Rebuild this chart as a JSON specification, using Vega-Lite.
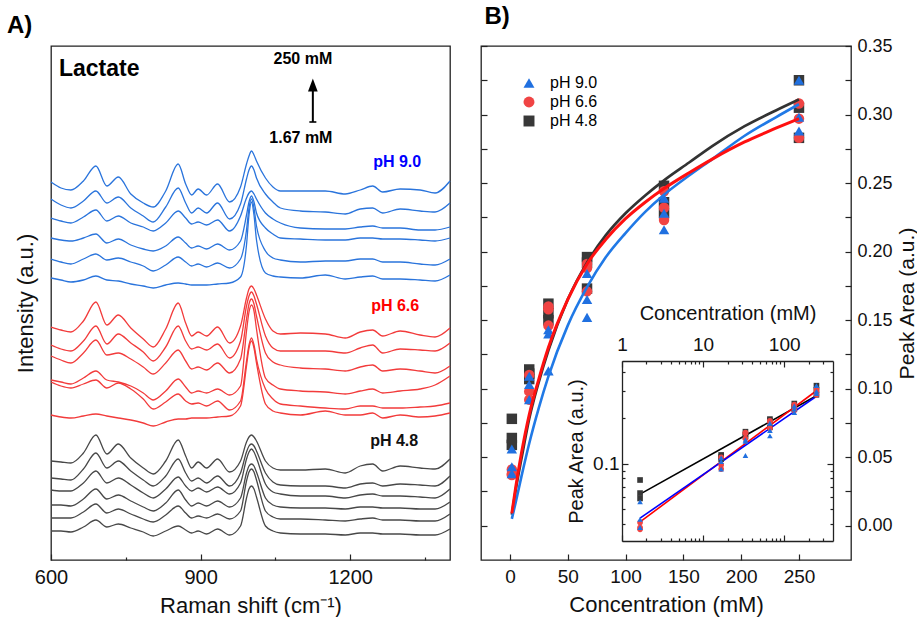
{
  "$schema": "https://vega.github.io/schema/vega-lite/v6.json",
  "padding": {"left": 6, "top": 4, "right": 0, "bottom": 0},
  "background": "white",
  "config": {
    "font": "Liberation Sans",
    "view": {"stroke": "#222222", "strokeWidth": 1.3},
    "axis": {"grid": false, "labelFlush": false, "tickColor": "#222222", "domainColor": "#222222", "labelColor": "#111111", "titleColor": "#111111", "titleFontWeight": "normal", "tickWidth": 1.2, "domainWidth": 1.3}
  },
  "datasets": {
    "spectra": [
      {"x":600,"b1":378,"b2":361,"b3":342,"b4":322,"b5":301,"b6":282,"r1":233,"r2":215,"r3":204,"r4":180,"r5":178,"r6":145,"k1":99,"k2":82,"k3":70,"k4":55,"k5":42,"k6":29},
      {"x":620,"b1":372,"b2":355,"b3":339,"b4":320,"b5":298,"b6":280,"r1":230,"r2":211,"r3":200,"r4":178,"r5":174,"r6":143,"k1":98,"k2":81,"k3":69,"k4":55,"k5":42,"k6":29},
      {"x":640,"b1":370,"b2":352,"b3":337,"b4":319,"b5":296,"b6":278,"r1":228,"r2":209,"r3":197,"r4":176,"r5":172,"r6":142,"k1":97,"k2":80,"k3":69,"k4":54,"k5":42,"k6":28},
      {"x":665,"b1":379,"b2":359,"b3":343,"b4":322,"b5":301,"b6":280,"r1":239,"r2":219,"r3":207,"r4":182,"r5":176,"r6":144,"k1":107,"k2":91,"k3":77,"k4":61,"k5":48,"k6":33},
      {"x":690,"b1":394,"b2":369,"b3":350,"b4":326,"b5":306,"b6":284,"r1":258,"r2":234,"r3":220,"r4":189,"r5":180,"r6":146,"k1":125,"k2":107,"k3":89,"k4":71,"k5":56,"k6":40},
      {"x":712,"b1":374,"b2":357,"b3":339,"b4":317,"b5":300,"b6":280,"r1":235,"r2":216,"r3":205,"r4":180,"r5":172,"r6":144,"k1":106,"k2":92,"k3":77,"k4":61,"k5":47,"k6":33},
      {"x":735,"b1":383,"b2":363,"b3":344,"b4":321,"b5":302,"b6":279,"r1":245,"r2":226,"r3":207,"r4":178,"r5":177,"r6":142,"k1":116,"k2":99,"k3":82,"k4":65,"k5":51,"k6":36},
      {"x":760,"b1":366,"b2":352,"b3":337,"b4":315,"b5":298,"b6":276,"r1":232,"r2":217,"r3":201,"r4":174,"r5":171,"r6":140,"k1":102,"k2":89,"k3":75,"k4":59,"k5":46,"k6":32},
      {"x":785,"b1":357,"b2":344,"b3":333,"b4":311,"b5":294,"b6":274,"r1":221,"r2":208,"r3":193,"r4":167,"r5":161,"r6":137,"k1":92,"k2":80,"k3":67,"k4":53,"k5":41,"k6":28},
      {"x":805,"b1":353,"b2":338,"b3":329,"b4":309,"b5":289,"b6":272,"r1":213,"r2":199,"r3":186,"r4":160,"r5":151,"r6":134,"k1":86,"k2":74,"k3":62,"k4":49,"k5":38,"k6":24},
      {"x":830,"b1":369,"b2":353,"b3":337,"b4":314,"b5":295,"b6":275,"r1":231,"r2":213,"r3":197,"r4":169,"r5":158,"r6":138,"k1":99,"k2":84,"k3":71,"k4":57,"k5":45,"k6":29},
      {"x":855,"b1":396,"b2":372,"b3":349,"b4":323,"b5":303,"b6":277,"r1":257,"r2":234,"r3":210,"r4":181,"r5":166,"r6":141,"k1":120,"k2":101,"k3":83,"k4":70,"k5":54,"k6":34},
      {"x":870,"b1":376,"b2":357,"b3":342,"b4":317,"b5":298,"b6":276,"r1":237,"r2":219,"r3":199,"r4":173,"r5":159,"r6":141,"k1":104,"k2":87,"k3":74,"k4":60,"k5":47,"k6":30},
      {"x":882,"b1":365,"b2":347,"b3":336,"b4":312,"b5":294,"b6":275,"r1":224,"r2":211,"r3":191,"r4":167,"r5":156,"r6":142,"k1":92,"k2":79,"k3":69,"k4":54,"k5":42,"k6":27},
      {"x":895,"b1":371,"b2":352,"b3":338,"b4":314,"b5":296,"b6":275,"r1":228,"r2":213,"r3":193,"r4":169,"r5":157,"r6":142,"k1":98,"k2":82,"k3":72,"k4":57,"k5":44,"k6":29},
      {"x":912,"b1":365,"b2":347,"b3":335,"b4":311,"b5":293,"b6":275,"r1":224,"r2":210,"r3":190,"r4":167,"r5":154,"r6":142,"k1":92,"k2":77,"k3":68,"k4":54,"k5":42,"k6":26},
      {"x":934,"b1":376,"b2":357,"b3":340,"b4":316,"b5":297,"b6":276,"r1":233,"r2":216,"r3":197,"r4":171,"r5":159,"r6":143,"k1":101,"k2":84,"k3":73,"k4":59,"k5":46,"k6":31},
      {"x":958,"b1":358,"b2":341,"b3":329,"b4":310,"b5":292,"b6":277,"r1":217,"r2":202,"r3":187,"r4":165,"r5":150,"r6":144,"k1":88,"k2":74,"k3":66,"k4":53,"k5":41,"k6":25},
      {"x":980,"b1":373,"b2":356,"b3":344,"b4":319,"b5":301,"b6":283,"r1":234,"r2":219,"r3":201,"r4":174,"r5":159,"r6":154,"k1":99,"k2":87,"k3":77,"k4":62,"k5":49,"k6":34},
      {"x":992,"b1":396,"b2":381,"b3":362,"b4":345,"b5":330,"b6":315,"r1":262,"r2":254,"r3":241,"r4":229,"r5":199,"r6":194,"k1":118,"k2":108,"k3":101,"k4":87,"k5":79,"k6":62},
      {"x":997,"b1":404,"b2":390,"b3":367,"b4":358,"b5":352,"b6":345,"r1":271,"r2":264,"r3":256,"r4":248,"r5":215,"r6":212,"k1":123,"k2":114,"k3":108,"k4":94,"k5":88,"k6":71},
      {"x":1002,"b1":409,"b2":394,"b3":369,"b4":364,"b5":361,"b6":358,"r1":274,"r2":268,"r3":261,"r4":255,"r5":222,"r6":219,"k1":125,"k2":116,"k3":111,"k4":96,"k5":91,"k6":74},
      {"x":1007,"b1":405,"b2":390,"b3":366,"b4":358,"b5":352,"b6":345,"r1":271,"r2":264,"r3":256,"r4":249,"r5":215,"r6":212,"k1":123,"k2":114,"k3":108,"k4":94,"k5":88,"k6":71},
      {"x":1012,"b1":399,"b2":382,"b3":361,"b4":347,"b5":334,"b6":320,"r1":265,"r2":256,"r3":244,"r4":231,"r5":201,"r6":197,"k1":119,"k2":109,"k3":102,"k4":88,"k5":80,"k6":63},
      {"x":1030,"b1":382,"b2":366,"b3":347,"b4":332,"b5":309,"b6":287,"r1":241,"r2":224,"r3":207,"r4":182,"r5":171,"r6":156,"k1":99,"k2":87,"k3":76,"k4":62,"k5":49,"k6":34},
      {"x":1045,"b1":373,"b2":358,"b3":341,"b4":326,"b5":302,"b6":284,"r1":229,"r2":212,"r3":198,"r4":175,"r5":161,"r6":149,"k1":92,"k2":78,"k3":68,"k4":55,"k5":43,"k6":29},
      {"x":1060,"b1":369,"b2":352,"b3":337,"b4":322,"b5":300,"b6":283,"r1":226,"r2":209,"r3":195,"r4":171,"r5":156,"r6":147,"k1":90,"k2":75,"k3":66,"k4":53,"k5":41,"k6":27},
      {"x":1100,"b1":369,"b2":349,"b3":332,"b4":321,"b5":298,"b6":282,"r1":227,"r2":209,"r3":192,"r4":169,"r5":154,"r6":145,"k1":90,"k2":74,"k3":64,"k4":52,"k5":41,"k6":26},
      {"x":1150,"b1":369,"b2":348,"b3":331,"b4":320,"b5":299,"b6":285,"r1":226,"r2":209,"r3":191,"r4":168,"r5":152,"r6":149,"k1":91,"k2":74,"k3":64,"k4":52,"k5":40,"k6":26},
      {"x":1190,"b1":366,"b2":346,"b3":331,"b4":320,"b5":299,"b6":281,"r1":222,"r2":207,"r3":189,"r4":166,"r5":151,"r6":145,"k1":87,"k2":72,"k3":62,"k4":51,"k5":39,"k6":25},
      {"x":1220,"b1":370,"b2":351,"b3":333,"b4":322,"b5":301,"b6":283,"r1":228,"r2":212,"r3":193,"r4":169,"r5":154,"r6":145,"k1":94,"k2":76,"k3":65,"k4":53,"k5":41,"k6":27},
      {"x":1245,"b1":374,"b2":352,"b3":334,"b4":322,"b5":301,"b6":284,"r1":230,"r2":215,"r3":195,"r4":171,"r5":154,"r6":147,"k1":96,"k2":77,"k3":66,"k4":53,"k5":42,"k6":27},
      {"x":1265,"b1":368,"b2":347,"b3":332,"b4":321,"b5":298,"b6":281,"r1":224,"r2":207,"r3":189,"r4":167,"r5":152,"r6":142,"k1":89,"k2":74,"k3":64,"k4":52,"k5":40,"k6":26},
      {"x":1300,"b1":371,"b2":351,"b3":332,"b4":321,"b5":298,"b6":281,"r1":229,"r2":211,"r3":191,"r4":169,"r5":152,"r6":145,"k1":94,"k2":76,"k3":64,"k4":52,"k5":40,"k6":26},
      {"x":1340,"b1":370,"b2":349,"b3":330,"b4":320,"b5":296,"b6":280,"r1":225,"r2":210,"r3":189,"r4":171,"r5":153,"r6":143,"k1":92,"k2":75,"k3":63,"k4":51,"k5":39,"k6":25},
      {"x":1370,"b1":367,"b2":348,"b3":330,"b4":319,"b5":295,"b6":279,"r1":223,"r2":209,"r3":187,"r4":175,"r5":154,"r6":144,"k1":91,"k2":74,"k3":62,"k4":51,"k5":39,"k6":25},
      {"x":1400,"b1":379,"b2":357,"b3":333,"b4":322,"b5":301,"b6":285,"r1":232,"r2":217,"r3":194,"r4":184,"r5":157,"r6":147,"k1":101,"k2":84,"k3":71,"k4":58,"k5":46,"k6":31}
    ],
    "pts": [
      {"c":1.67,"ph":"pH 4.8","a":0.078},{"c":1.67,"ph":"pH 4.8","a":0.064},{"c":1.67,"ph":"pH 4.8","a":0.059},
      {"c":16.7,"ph":"pH 4.8","a":0.114},{"c":16.7,"ph":"pH 4.8","a":0.111},{"c":16.7,"ph":"pH 4.8","a":0.107},
      {"c":33.3,"ph":"pH 4.8","a":0.162},{"c":33.3,"ph":"pH 4.8","a":0.155},{"c":33.3,"ph":"pH 4.8","a":0.150},
      {"c":66.7,"ph":"pH 4.8","a":0.196},{"c":66.7,"ph":"pH 4.8","a":0.192},{"c":66.7,"ph":"pH 4.8","a":0.173},
      {"c":133.3,"ph":"pH 4.8","a":0.248},{"c":133.3,"ph":"pH 4.8","a":0.236},{"c":133.3,"ph":"pH 4.8","a":0.228},
      {"c":250,"ph":"pH 4.8","a":0.325},{"c":250,"ph":"pH 4.8","a":0.305},{"c":250,"ph":"pH 4.8","a":0.283},
      {"c":1.67,"ph":"pH 6.6","a":0.041},{"c":1.67,"ph":"pH 6.6","a":0.038},{"c":1.67,"ph":"pH 6.6","a":0.037},
      {"c":16.7,"ph":"pH 6.6","a":0.110},{"c":16.7,"ph":"pH 6.6","a":0.098},{"c":16.7,"ph":"pH 6.6","a":0.092},
      {"c":33.3,"ph":"pH 6.6","a":0.160},{"c":33.3,"ph":"pH 6.6","a":0.158},{"c":33.3,"ph":"pH 6.6","a":0.146},
      {"c":66.7,"ph":"pH 6.6","a":0.191},{"c":66.7,"ph":"pH 6.6","a":0.188},{"c":66.7,"ph":"pH 6.6","a":0.171},
      {"c":133.3,"ph":"pH 6.6","a":0.244},{"c":133.3,"ph":"pH 6.6","a":0.232},{"c":133.3,"ph":"pH 6.6","a":0.223},
      {"c":250,"ph":"pH 6.6","a":0.308},{"c":250,"ph":"pH 6.6","a":0.297},{"c":250,"ph":"pH 6.6","a":0.283},
      {"c":1.67,"ph":"pH 9.0","a":0.056},{"c":1.67,"ph":"pH 9.0","a":0.043},{"c":1.67,"ph":"pH 9.0","a":0.038},
      {"c":16.7,"ph":"pH 9.0","a":0.109},{"c":16.7,"ph":"pH 9.0","a":0.103},{"c":16.7,"ph":"pH 9.0","a":0.092},
      {"c":33.3,"ph":"pH 9.0","a":0.143},{"c":33.3,"ph":"pH 9.0","a":0.140},{"c":33.3,"ph":"pH 9.0","a":0.113},
      {"c":66.7,"ph":"pH 9.0","a":0.184},{"c":66.7,"ph":"pH 9.0","a":0.165},{"c":66.7,"ph":"pH 9.0","a":0.152},
      {"c":133.3,"ph":"pH 9.0","a":0.239},{"c":133.3,"ph":"pH 9.0","a":0.228},{"c":133.3,"ph":"pH 9.0","a":0.216},
      {"c":250,"ph":"pH 9.0","a":0.325},{"c":250,"ph":"pH 9.0","a":0.298},{"c":250,"ph":"pH 9.0","a":0.288}
    ],
    "fit": [
      {"c":1.67,"ph":"pH 4.8","a":0.008},{"c":5,"ph":"pH 4.8","a":0.026},{"c":10,"ph":"pH 4.8","a":0.049},{"c":16.7,"ph":"pH 4.8","a":0.078},{"c":25,"ph":"pH 4.8","a":0.105},{"c":33.3,"ph":"pH 4.8","a":0.128},{"c":50,"ph":"pH 4.8","a":0.165},{"c":66.7,"ph":"pH 4.8","a":0.192},{"c":83,"ph":"pH 4.8","a":0.212},{"c":100,"ph":"pH 4.8","a":0.228},{"c":117,"ph":"pH 4.8","a":0.241},{"c":133.3,"ph":"pH 4.8","a":0.252},{"c":155,"ph":"pH 4.8","a":0.265},{"c":175,"ph":"pH 4.8","a":0.277},{"c":203,"ph":"pH 4.8","a":0.2915},{"c":230,"ph":"pH 4.8","a":0.303},{"c":250,"ph":"pH 4.8","a":0.311},
      {"c":1.67,"ph":"pH 6.6","a":0.009},{"c":5,"ph":"pH 6.6","a":0.028},{"c":10,"ph":"pH 6.6","a":0.053},{"c":16.7,"ph":"pH 6.6","a":0.081},{"c":25,"ph":"pH 6.6","a":0.107},{"c":33.3,"ph":"pH 6.6","a":0.130},{"c":50,"ph":"pH 6.6","a":0.165},{"c":66.7,"ph":"pH 6.6","a":0.191},{"c":83,"ph":"pH 6.6","a":0.209},{"c":100,"ph":"pH 6.6","a":0.224},{"c":117,"ph":"pH 6.6","a":0.236},{"c":133.3,"ph":"pH 6.6","a":0.246},{"c":155,"ph":"pH 6.6","a":0.2575},{"c":175,"ph":"pH 6.6","a":0.2675},{"c":203,"ph":"pH 6.6","a":0.280},{"c":230,"ph":"pH 6.6","a":0.290},{"c":250,"ph":"pH 6.6","a":0.297},
      {"c":1.67,"ph":"pH 9.0","a":0.005},{"c":5,"ph":"pH 9.0","a":0.017},{"c":10,"ph":"pH 9.0","a":0.036},{"c":16.7,"ph":"pH 9.0","a":0.060},{"c":25,"ph":"pH 9.0","a":0.086},{"c":33.3,"ph":"pH 9.0","a":0.109},{"c":50,"ph":"pH 9.0","a":0.146},{"c":66.7,"ph":"pH 9.0","a":0.174},{"c":83,"ph":"pH 9.0","a":0.196},{"c":100,"ph":"pH 9.0","a":0.2135},{"c":117,"ph":"pH 9.0","a":0.229},{"c":133.3,"ph":"pH 9.0","a":0.2415},{"c":155,"ph":"pH 9.0","a":0.2555},{"c":175,"ph":"pH 9.0","a":0.2675},{"c":203,"ph":"pH 9.0","a":0.2845},{"c":230,"ph":"pH 9.0","a":0.298},{"c":250,"ph":"pH 9.0","a":0.3075}
    ],
    "lfit": [
      {"c":1.67,"ph":"pH 4.8","a":0.063},{"c":250,"ph":"pH 4.8","a":0.279},
      {"c":1.67,"ph":"pH 6.6","a":0.0414},{"c":250,"ph":"pH 6.6","a":0.301},
      {"c":1.67,"ph":"pH 9.0","a":0.0438},{"c":250,"ph":"pH 9.0","a":0.277}
    ]
  },
  "spacing": 25,
  "hconcat": [
    {
      "width": 399,
      "height": 514,
      "title": {"text": "A)", "anchor": "start", "frame": "bounds", "fontSize": 24, "fontWeight": "bold", "dx": -7, "offset": 8, "color": "#000000"},
      "resolve": {"scale": {"color": "independent"}},
      "layer": [
        {
          "data": {"name": "spectra"},
          "transform": [{"fold": ["b1","b2","b3","b4","b5","b6","r1","r2","r3","r4","r5","r6","k1","k2","k3","k4","k5","k6"], "as": ["curve", "v"]}],
          "mark": {"type": "line", "interpolate": "monotone", "strokeWidth": 1.3},
          "encoding": {
            "x": {"field": "x", "type": "quantitative", "scale": {"domain": [600, 1400], "nice": false, "zero": false},
              "axis": {"values": [600, 750, 900, 1050, 1200, 1350], "format": "d", "labelExpr": "datum.value % 300 === 0 ? datum.label : ''",
                "tickSize": {"condition": {"test": "datum.value % 300 === 0", "value": -6}, "value": -3},
                "domain": false, "labelFontSize": 20, "labelPadding": 13, "title": "Raman shift (cm⁻¹)", "titleFontSize": 22, "titlePadding": 8}},
            "y": {"field": "v", "type": "quantitative", "scale": {"domain": [0, 514], "nice": false, "zero": false},
              "axis": {"title": "Intensity (a.u.)", "labels": false, "ticks": false, "domain": false, "titleFontSize": 22, "titlePadding": 14}},
            "color": {"field": "curve", "type": "nominal",
              "scale": {"domain": ["b1","b2","b3","b4","b5","b6","r1","r2","r3","r4","r5","r6","k1","k2","k3","k4","k5","k6"],
                "range": ["#2a74dc","#2a74dc","#2a74dc","#2a74dc","#2a74dc","#2a74dc","#f23b3b","#f23b3b","#f23b3b","#f23b3b","#f23b3b","#f23b3b","#484848","#484848","#484848","#484848","#484848","#484848"]},
              "legend": null}
          }
        },
        {
          "data": {"values": [{"x": 616, "v": 484, "t": "Lactate"}]},
          "mark": {"type": "text", "align": "left", "baseline": "alphabetic", "fontSize": 23, "fontWeight": "bold", "color": "#000000"},
          "encoding": {"x": {"field": "x", "type": "quantitative"}, "y": {"field": "v", "type": "quantitative"}, "text": {"field": "t"}}
        },
        {
          "data": {"values": [{"x": 1105, "v": 496, "t": "250 mM"}, {"x": 1101, "v": 417, "t": "1.67 mM"}]},
          "mark": {"type": "text", "align": "center", "baseline": "alphabetic", "fontSize": 16, "fontWeight": "bold", "color": "#000000"},
          "encoding": {"x": {"field": "x", "type": "quantitative"}, "y": {"field": "v", "type": "quantitative"}, "text": {"field": "t"}}
        },
        {
          "data": {"values": [{"x": 1294, "v": 393, "t": "pH 9.0"}, {"x": 1290, "v": 249, "t": "pH 6.6"}, {"x": 1288, "v": 114, "t": "pH 4.8"}]},
          "mark": {"type": "text", "align": "center", "baseline": "alphabetic", "fontSize": 16, "fontWeight": "bold"},
          "encoding": {"x": {"field": "x", "type": "quantitative"}, "y": {"field": "v", "type": "quantitative"}, "text": {"field": "t"},
            "color": {"field": "t", "type": "nominal", "scale": {"domain": ["pH 9.0", "pH 6.6", "pH 4.8"], "range": ["#0000ff", "#ff0000", "#111111"]}, "legend": null}}
        },
        {
          "data": {"values": [{"x": 1125, "v": 438, "v2": 472}]},
          "mark": {"type": "rule", "strokeWidth": 2, "color": "#000000"},
          "encoding": {"x": {"field": "x", "type": "quantitative"}, "y": {"field": "v", "type": "quantitative"}, "y2": {"field": "v2"}}
        },
        {
          "data": {"values": [{"x": 1125, "v": 475}]},
          "mark": {"type": "point", "shape": "M0,-1L0.75,1L-0.75,1Z", "filled": true, "size": 169, "color": "#000000", "opacity": 1},
          "encoding": {"x": {"field": "x", "type": "quantitative"}, "y": {"field": "v", "type": "quantitative"}}
        },
        {
          "data": {"values": [{"x": 1125, "v": 438}]},
          "mark": {"type": "point", "shape": "M-1,0L1,0", "filled": false, "size": 49, "color": "#000000", "strokeWidth": 1.6, "opacity": 1},
          "encoding": {"x": {"field": "x", "type": "quantitative"}, "y": {"field": "v", "type": "quantitative"}}
        }
      ]
    },
    {
      "width": 370,
      "height": 514,
      "title": {"text": "B)", "anchor": "start", "frame": "bounds", "fontSize": 24, "fontWeight": "bold", "dx": 4, "offset": 8, "color": "#000000"},
      "resolve": {"scale": {"x": "independent", "y": "independent", "color": "independent", "shape": "independent"}, "axis": {"x": "independent", "y": "independent"}, "legend": {"color": "independent", "shape": "independent"}},
      "layer": [
        {
          "resolve": {"axis": {"y": "independent"}},
          "layer": [
            {
              "data": {"name": "pts"},
              "mark": {"type": "point", "filled": true, "size": 110, "opacity": 1},
              "encoding": {
                "x": {"field": "c", "type": "quantitative", "scale": {"domain": [-25, 295], "nice": false, "zero": false},
                  "axis": {"values": [0,25,50,75,100,125,150,175,200,225,250,275], "format": "d", "labelExpr": "datum.value % 50 === 0 ? datum.label : ''",
                    "tickSize": -6, "labelPadding": 13, "labelFontSize": 19, "domain": false, "title": "Concentration (mM)", "titleFontSize": 22, "titlePadding": 8}},
                "y": {"field": "a", "type": "quantitative", "scale": {"domain": [-0.025, 0.35], "nice": false, "zero": false},
                  "axis": {"orient": "right", "values": [0,0.025,0.05,0.075,0.1,0.125,0.15,0.175,0.2,0.225,0.25,0.275,0.3,0.325,0.35], "format": ".2f",
                    "labelExpr": "round(datum.value*1000) % 50 === 0 ? datum.label : ''", "tickSize": -6, "labelPadding": 12, "labelFontSize": 18, "domain": false,
                    "title": "Peak Area (a.u.)", "titleFontSize": 21, "titleAngle": -90, "titleBaseline": "top", "titlePadding": 4}},
                "color": {"field": "ph", "type": "nominal", "scale": {"domain": ["pH 9.0", "pH 6.6", "pH 4.8"], "range": ["#2070e0", "#f04444", "#383838"]},
                  "legend": {"orient": "none", "legendX": 40, "legendY": 29, "direction": "vertical", "title": null, "labelFontSize": 16, "symbolSize": 120, "symbolStrokeWidth": 0, "rowPadding": 3, "labelOffset": 13, "symbolOpacity": 1}},
                "shape": {"field": "ph", "type": "nominal", "scale": {"domain": ["pH 9.0", "pH 6.6", "pH 4.8"], "range": ["triangle-up", "circle", "square"]},
                  "legend": {"orient": "none", "legendX": 40, "legendY": 29, "direction": "vertical", "title": null, "labelFontSize": 16, "symbolSize": 120, "symbolStrokeWidth": 0, "rowPadding": 3, "labelOffset": 13, "symbolOpacity": 1}}
              }
            },
            {
              "data": {"name": "fit"},
              "transform": [{"filter": {"field": "ph", "equal": "pH 4.8"}}],
              "mark": {"type": "line", "interpolate": "monotone", "strokeWidth": 2.7, "color": "#333333"},
              "encoding": {
                "x": {"field": "c", "type": "quantitative"},
                "y": {"field": "a", "type": "quantitative",
                  "axis": {"orient": "left", "values": [0,0.025,0.05,0.075,0.1,0.125,0.15,0.175,0.2,0.225,0.25,0.275,0.3,0.325,0.35], "labels": false, "tickSize": -6, "domain": false, "title": null}}
              }
            },
            {
              "data": {"name": "fit"},
              "transform": [{"filter": {"field": "ph", "equal": "pH 9.0"}}],
              "mark": {"type": "line", "interpolate": "monotone", "strokeWidth": 2.6, "color": "#2079e6"},
              "encoding": {
                "x": {"field": "c", "type": "quantitative"},
                "y": {"field": "a", "type": "quantitative", "axis": null}
              }
            },
            {
              "data": {"name": "fit"},
              "transform": [{"filter": {"field": "ph", "equal": "pH 6.6"}}],
              "mark": {"type": "line", "interpolate": "monotone", "strokeWidth": 3, "color": "#ff1010"},
              "encoding": {
                "x": {"field": "c", "type": "quantitative"},
                "y": {"field": "a", "type": "quantitative", "axis": null}
              }
            }
          ]
        },
        {
          "resolve": {"scale": {"color": "independent"}, "axis": {"x": "independent", "y": "independent"}},
          "layer": [
            {
              "data": {"name": "lfit"},
              "mark": {"type": "line", "strokeWidth": 1.6},
              "encoding": {
                "x": {"field": "c", "type": "quantitative", "scale": {"type": "log", "domain": [1, 400], "range": [141, 352], "nice": false},
                  "axis": {"orient": "bottom", "offset": -19, "values": [1,2,3,4,5,6,7,8,9,10,20,30,40,50,60,70,80,90,100,200,300], "labels": false,
                    "tickSize": {"condition": {"test": "datum.value === 1 || datum.value === 10 || datum.value === 100", "value": -6}, "value": -3}, "title": null, "domain": true}},
                "y": {"field": "a", "type": "quantitative", "scale": {"type": "log", "domain": [0.031, 0.472], "range": [495, 315], "nice": false},
                  "axis": {"orient": "right", "offset": -18, "values": [0.04,0.05,0.06,0.07,0.08,0.09,0.1,0.2,0.3,0.4], "labels": false,
                    "tickSize": {"condition": {"test": "datum.value === 0.1", "value": -6}, "value": -3}, "title": null, "domain": true}},
                "color": {"field": "ph", "type": "nominal", "scale": {"domain": ["pH 9.0", "pH 6.6", "pH 4.8"], "range": ["#0000ff", "#ff0000", "#000000"]}, "legend": null}
              }
            },
            {
              "data": {"name": "pts"},
              "mark": {"type": "point", "filled": true, "size": 32, "opacity": 1},
              "encoding": {
                "x": {"field": "c", "type": "quantitative", "scale": {"type": "log", "domain": [1, 400], "range": [141, 352], "nice": false},
                  "axis": {"orient": "top", "offset": -315, "values": [1,2,3,4,5,6,7,8,9,10,20,30,40,50,60,70,80,90,100,200,300], "format": "d",
                    "labelExpr": "datum.value === 1 || datum.value === 10 || datum.value === 100 ? datum.label : ''",
                    "tickSize": {"condition": {"test": "datum.value === 1 || datum.value === 10 || datum.value === 100", "value": -6}, "value": -3},
                    "labelPadding": 13, "labelFontSize": 19, "title": "Concentration (mM)", "titleFontSize": 20, "titlePadding": 12, "domain": true}},
                "y": {"field": "a", "type": "quantitative", "scale": {"type": "log", "domain": [0.031, 0.472], "range": [495, 315], "nice": false},
                  "axis": {"orient": "left", "offset": -141, "values": [0.04,0.05,0.06,0.07,0.08,0.09,0.1,0.2,0.3,0.4],
                    "labelExpr": "datum.value === 0.1 ? '0.1' : ''",
                    "tickSize": {"condition": {"test": "datum.value === 0.1", "value": -6}, "value": -3},
                    "labelPadding": 9, "labelFontSize": 19, "title": "Peak Area (a.u.)", "titleFontSize": 20, "titlePadding": 6, "domain": true}},
                "color": {"field": "ph", "type": "nominal", "scale": {"domain": ["pH 9.0", "pH 6.6", "pH 4.8"], "range": ["#2070e0", "#f04444", "#383838"]}, "legend": null},
                "shape": {"field": "ph", "type": "nominal", "scale": {"domain": ["pH 9.0", "pH 6.6", "pH 4.8"], "range": ["triangle-up", "circle", "square"]}, "legend": null}
              }
            }
          ]
        }
      ]
    }
  ]
}
